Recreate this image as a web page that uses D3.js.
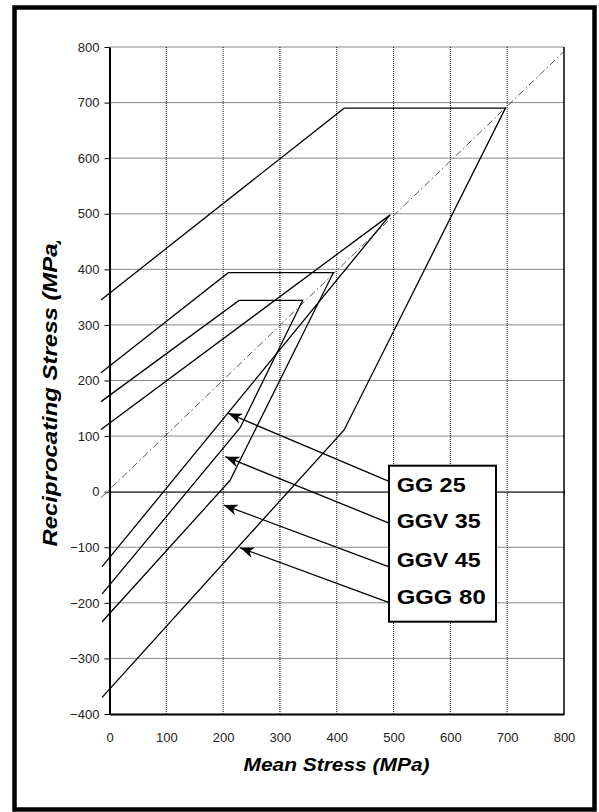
<!DOCTYPE html>
<html>
<head>
<meta charset="utf-8">
<script src="https://cdn.jsdelivr.net/npm/d3@7"></script>
<style>
  body { margin: 0; background: #fff; }
  svg { display: block; font-family: "Liberation Sans", Arial, sans-serif; }
</style>
</head>
<body>
<div id="chart"></div>
<script>
// ticks
var xTicks = [0, 100, 200, 300, 400, 500, 600, 700, 800];
var yTicks = [-400, -300, -200, -100, 0, 100, 200, 300, 400, 500, 600, 700, 800];

// materials (lower line -> apex/top -> upper line), MPa
var materials = ["GG 25", "GGV 35", "GGV 45", "GGG 80"];
var gg25  = [[-13, -184], [230, 115], [340, 344], [228, 344], [-15, 162]];
var ggv35 = [[-13, -234], [212, 20], [394, 394], [209, 394], [-15, 214]];
var ggv45 = [[-13, -135], [494, 498], [-15, 112]];
var ggg80 = [[-13, -370], [413, 111], [697, 690], [413, 690], [-15, 345]];
var diagonal = [[-15, -11], [799, 791]];

// arrows from label box to curves
var arrowFrom = [[491, 19], [491, -56], [491, -135], [491, -199]];
var arrowTo   = [[209, 141], [204, 63], [201, -24], [230, -101]];

var ancho = 599, alto = 812;
var fuente = "'Liberation Sans', Arial, sans-serif";

var svg = d3.select("#chart").append("svg")
  .attr("width", ancho)
  .attr("height", alto);

// marco exterior
svg.append("rect")
  .attr("x", 14.5).attr("y", 7.5)
  .attr("width", 580).attr("height", 802)
  .attr("fill", "none")
  .attr("stroke", "#000")
  .attr("stroke-width", 4.5);

var x = d3.scaleLinear().domain([0, 800]).range([109.5, 564]);
var y = d3.scaleLinear().domain([-400, 800]).range([714, 47]);

// rejilla
var grid = svg.append("g").attr("class", "grid");
grid.selectAll(".v")
  .data(xTicks.slice(1, -1))
  .enter().append("line")
  .attr("x1", d => x(d)).attr("x2", d => x(d))
  .attr("y1", y(-400)).attr("y2", y(800));
grid.selectAll(".h")
  .data(yTicks.filter(d => d !== -400 && d !== 0))
  .enter().append("line")
  .attr("x1", x(0)).attr("x2", x(800))
  .attr("y1", d => y(d)).attr("y2", d => y(d));
grid.selectAll("line")
  .attr("stroke", "#111")
  .attr("stroke-width", 1)
  .attr("stroke-dasharray", "1,1");

// eje y=0
var ejeCero = svg.append("g")
  .attr("transform", "translate(0," + y(0) + ")")
  .call(d3.axisBottom(x).tickValues(xTicks.slice(1)).tickSize(3).tickSizeOuter(0).tickFormat(""));
ejeCero.select(".domain").attr("stroke", "#555").attr("stroke-width", 1.6);
ejeCero.selectAll(".tick line").attr("stroke", "#555");

// borde derecho
svg.append("line")
  .attr("x1", x(800)).attr("x2", x(800))
  .attr("y1", y(800)).attr("y2", y(-400))
  .attr("stroke", "#000").attr("stroke-width", 1.5);

// eje y
var ejeY = svg.append("g")
  .attr("transform", "translate(" + x(0) + ",0)")
  .call(d3.axisLeft(y).tickValues(yTicks).tickSize(5).tickSizeOuter(0).tickPadding(5));
ejeY.select(".domain").attr("stroke-width", 2);
ejeY.selectAll("text").attr("font-size", 13).attr("fill", "#222")
  .attr("font-family", fuente);

// eje x
var ejeX = svg.append("g")
  .attr("transform", "translate(0," + y(-400) + ")")
  .call(d3.axisBottom(x).tickValues(xTicks).tickSize(0).tickSizeOuter(0).tickPadding(18.5));
ejeX.select(".domain").attr("stroke-width", 2);
ejeX.selectAll("text").attr("font-size", 13).attr("fill", "#222")
  .attr("font-family", fuente);

var linea = d3.line().x(d => x(d[0])).y(d => y(d[1]));

// diagonal punto-raya
svg.append("path")
  .attr("d", linea(diagonal))
  .attr("fill", "none")
  .attr("stroke", "#555")
  .attr("stroke-width", 1)
  .attr("stroke-dasharray", "7,3,1.5,3");

// curvas de materiales
svg.append("g").selectAll("path")
  .data([gg25, ggv35, ggv45, ggg80])
  .enter().append("path")
  .attr("d", d => linea(d))
  .attr("fill", "none")
  .attr("stroke", "#000")
  .attr("stroke-width", 1.3)
  .attr("stroke-linejoin", "miter");

// flechas
svg.append("defs").append("marker")
  .attr("id", "punta")
  .attr("markerUnits", "userSpaceOnUse")
  .attr("viewBox", "-14 -6 15 12")
  .attr("refX", 0).attr("refY", 0)
  .attr("markerWidth", 15).attr("markerHeight", 12)
  .attr("orient", "auto")
  .append("path")
  .attr("d", "M0,0 L-14,-5.5 L-10,0 L-14,5.5 Z")
  .attr("fill", "#000");

svg.append("g").selectAll("line")
  .data(arrowFrom)
  .enter().append("line")
  .attr("x1", d => x(d[0])).attr("y1", d => y(d[1]))
  .attr("x2", (d, i) => x(arrowTo[i][0])).attr("y2", (d, i) => y(arrowTo[i][1]))
  .attr("stroke", "#000")
  .attr("stroke-width", 1.3)
  .attr("marker-end", "url(#punta)");

// cuadro de leyenda
svg.append("rect")
  .attr("x", 389).attr("y", 465.7)
  .attr("width", 107).attr("height", 156)
  .attr("fill", "#fff")
  .attr("stroke", "#000")
  .attr("stroke-width", 2);

var anchos = [69, 84, 84, 89];
var bases = [491.7, 528.3, 567.3, 604];
svg.append("g").selectAll("text")
  .data(materials)
  .enter().append("text")
  .text(d => d)
  .attr("x", 396.7)
  .attr("y", (d, i) => bases[i])
  .attr("font-size", 21)
  .attr("font-weight", "bold")
  .attr("textLength", (d, i) => anchos[i])
  .attr("lengthAdjust", "spacingAndGlyphs")
  .attr("fill", "#000");

// titulos de ejes
svg.append("text")
  .text("Mean Stress (MPa)")
  .attr("x", 336.5).attr("y", 771)
  .attr("text-anchor", "middle")
  .attr("font-size", 18)
  .attr("font-weight", "bold")
  .attr("font-style", "italic")
  .attr("textLength", 186)
  .attr("lengthAdjust", "spacingAndGlyphs");

svg.append("clipPath").attr("id", "recorte")
  .append("rect").attr("x", 0).attr("y", 241).attr("width", 100).attr("height", 500);

svg.append("g")
  .attr("clip-path", "url(#recorte)")
  .append("text")
  .text("Reciprocating Stress (MPa)")
  .attr("transform", "translate(57,391) rotate(-90)")
  .attr("text-anchor", "middle")
  .attr("font-size", 20)
  .attr("font-weight", "bold")
  .attr("font-style", "italic")
  .attr("textLength", 311)
  .attr("lengthAdjust", "spacingAndGlyphs");
</script>
</body>
</html>
